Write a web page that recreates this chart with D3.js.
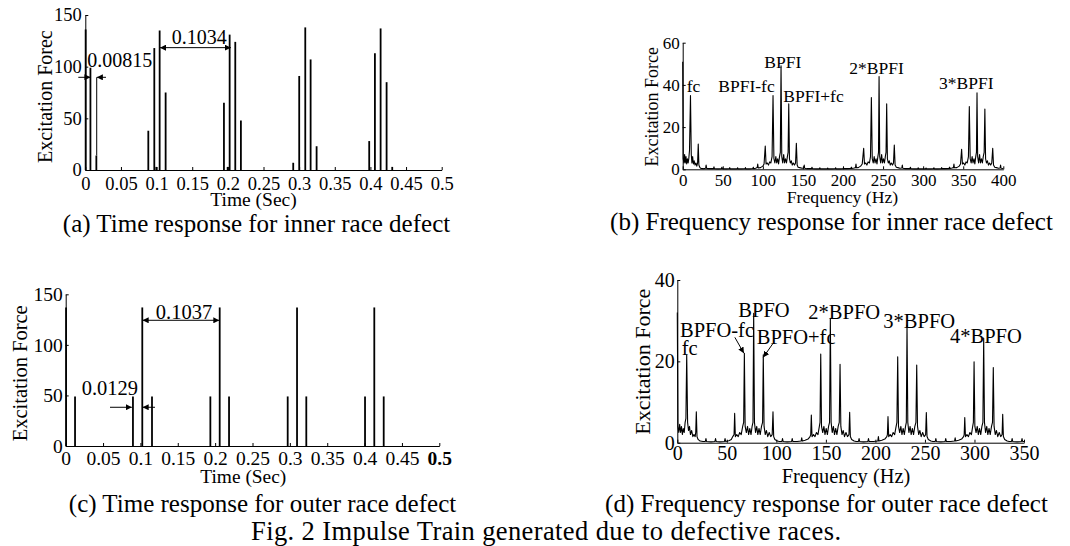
<!DOCTYPE html>
<html>
<head>
<meta charset="utf-8">
<script src="https://cdn.jsdelivr.net/npm/d3@7"></script>
<style>
  body { margin: 0; background: #fff; }
  svg { display: block; }
  text { font-family: "Liberation Serif", "Times New Roman", serif; fill: #000; }
</style>
</head>
<body>
<svg id="drawing_region"></svg>
<script>
// (a) inner race: impulse times (s) and forces
const innerTimes  = [0.0005, 0.0072, 0.0155, 0.0884, 0.0968, 0.0996, 0.1043, 0.1127,
                     0.1945, 0.1997, 0.2025, 0.2104, 0.2183, 0.2917, 0.3001, 0.3086,
                     0.3161, 0.3245, 0.3983, 0.4063, 0.4143, 0.4227, 0.4306];
const innerForces = [136, 99, 14, 38, 118, 3, 135, 75,
                     65, 3, 131, 124, 48, 7, 91, 138,
                     107, 23, 28, 113, 137, 85, 3];

// (c) outer race: impulse times (s) and forces
const outerTimes  = [0.0005, 0.0125, 0.0900, 0.1025, 0.1155, 0.1936, 0.2061, 0.2186,
                     0.2971, 0.3096, 0.3220, 0.4006, 0.4130, 0.4256];
const outerForces = [137, 49, 49, 137, 49, 49, 137, 49,
                     49, 137, 49, 49, 137, 49];

// (b) spectrum, inner race [Hz, force]
const innerSpectrum = [
  [0,51],[0.6,5],[1.5,3],[2.4,7],[3.2,3],[4.1,6],[5,2.5],[5.9,5],[6.8,3],[7.6,5],[8.5,9],[9.7,35],
  [10.7,7],[11.5,3],[12.4,6],[13.3,2.5],[14.3,4],[15.4,2],[16.5,3],[17.6,1.5],[18.6,3],[19.4,12],
  [20.2,2],[21.5,0.8],[23,0.4],[26,0.3],[28.6,0.5],[29.2,2],[29.9,0.4],[33,0.3],[38.4,0.3],[39,1.2],
  [39.6,0.3],[44,0.2],[48.3,0.3],[48.9,1],[49.5,0.3],[54,0.2],[58.1,0.3],[58.7,0.8],[59.3,0.2],
  [63,0.2],[67.9,0.2],[68.5,0.7],[69.1,0.2],[73,0.2],[77.7,0.3],[78.3,0.8],[78.9,0.2],[83,0.2],
  [87.5,0.4],[88.1,1],[88.7,0.3],[91,0.5],[93,0.8],[93.6,2.5],[94.2,0.6],[97,0.8],[100,1.5],
  [101.5,2.5],[103,11],[104,2.5],[105.5,3],[107,2],[108.5,3.5],[110,3],[111.5,6],[112.7,35],
  [113.8,5],[115,3],[116.2,6],[117.3,3],[118.5,5],[119.6,2.5],[120.8,6],[121.8,8],[122.7,49],
  [123.6,6],[124.8,3],[126,7],[127.1,3],[128.3,5],[129.5,3],[130.6,6],[131.5,8],[132.3,31],
  [133.2,5],[134.3,3],[135.5,4],[136.7,2],[138,3],[139.5,2],[140.8,3],[141.8,12.3],[142.8,2],
  [144,1],[146,0.8],[149,0.5],[151,0.6],[151.6,2],[152.2,0.5],[155,0.3],[160.7,0.3],[161.3,1],
  [161.9,0.3],[166,0.2],[170.5,0.2],[171.1,0.7],[171.7,0.2],[176,0.2],[180.3,0.2],[180.9,0.6],
  [181.5,0.2],[186,0.2],[190.2,0.3],[190.8,0.7],[191.4,0.2],[196,0.2],[200,0.3],[200.6,0.8],
  [201.2,0.3],[205,0.3],[209.8,0.4],[210.4,1],[211,0.4],[214,0.6],[215.6,0.8],[216.2,2.5],
  [216.8,0.7],[219,0.8],[222,1.5],[224,2.5],[225.8,10],[226.8,2.5],[228.3,3],[229.8,2],[231.3,3.5],
  [233,3],[234.3,6],[235.4,34],[236.5,5],[237.7,3],[238.9,6],[240,3],[241.2,5],[242.4,2.5],
  [243.5,6],[244.3,8],[245,44],[245.8,6],[247,3],[248.2,7],[249.3,3],[250.5,5],[251.7,3],
  [252.8,6],[253.7,8],[254.5,31],[255.4,5],[256.5,3],[257.7,4],[259,2],[260.3,3],[261.8,2],
  [263,3],[264,11.5],[265,2],[266.5,1],[268.5,0.8],[271,0.5],[273.4,0.6],[274,2],[274.6,0.5],
  [278,0.3],[283.5,0.3],[284.1,1],[284.7,0.3],[289,0.2],[293.2,0.2],[293.8,0.7],[294.4,0.2],
  [299,0.2],[303,0.2],[303.6,0.6],[304.2,0.2],[309,0.2],[312.8,0.3],[313.4,0.7],[314,0.2],
  [318,0.2],[322.5,0.3],[323.1,0.8],[323.7,0.3],[327,0.3],[332.3,0.4],[332.9,1],[333.5,0.4],
  [336,0.6],[337.8,0.8],[338.4,2.5],[339,0.7],[342,0.8],[345,1.5],[346.6,2.5],[348,9.5],[349,2.5],
  [350.5,3],[352,2],[353.5,3.5],[355,3],[356.5,6],[357.6,29.7],[358.7,5],[359.9,3],[361.1,6],
  [362.2,3],[363.4,5],[364.5,2.5],[365.6,6],[366.5,8],[367.2,36.2],[368,6],[369.2,3],[370.4,7],
  [371.5,3],[372.7,5],[373.9,3],[375,6],[376.1,8],[377,28.6],[377.9,5],[379,3],[380.2,4],
  [381.5,2],[382.8,3],[384.3,2],[385.6,3],[386.8,10],[387.8,2],[389.3,1],[391.5,0.8],[394,0.5],
  [396,0.6],[396.6,2],[397.2,0.5],[400,0.4]
];

// (d) spectrum, outer race [Hz, force]
const outerSpectrum = [
  [0,32],[0.6,4],[1.5,2.5],[2.4,4.5],[3.3,2.5],[4.2,4],[5.1,2],[6,3.5],[7,2.5],[7.9,5],[8.7,6],
  [9.5,21.6],[10.4,5],[11.3,3],[12.3,4],[13.3,2],[14.5,3],[15.7,1.5],[16.8,2],[18,1.5],[18.6,2.5],
  [19.2,7.6],[19.9,1.5],[21,0.8],[23,0.4],[26,0.3],[28.3,0.3],[28.9,1],[29.5,0.3],[34,0.2],
  [38,0.3],[38.6,1],[39.2,0.3],[43,0.2],[47.6,0.3],[48.2,1],[48.8,0.3],[52,0.5],[54.5,0.8],
  [56,1.5],[57.3,2],[57.9,7.2],[58.6,1.5],[60,2],[61.5,1.5],[63,2.5],[64.5,2],[66,4],[67,5],
  [67.7,22],[68.5,4],[69.7,2.5],[70.9,4],[72,2],[73.2,3.5],[74.4,2],[75.5,4],[76.4,5],[77.1,31.8],
  [77.9,5],[79,2.5],[80.2,4],[81.3,2],[82.5,3.5],[83.7,2],[85,4],[86.1,5],[86.8,21.6],[87.6,4],
  [88.8,2],[90,3],[91.3,1.5],[92.8,2.5],[94.3,1.5],[95.8,2],[96.6,7.6],[97.3,1.5],[98.5,0.8],
  [101,0.4],[103,0.3],[105.6,0.3],[106.2,1],[106.8,0.3],[111,0.2],[115.4,0.3],[116,1],[116.6,0.3],
  [121,0.3],[125,0.4],[125.6,1.2],[126.2,0.4],[129,0.6],[132,0.9],[134,1.5],[134.7,2],[135.3,6.8],
  [136,1.5],[137.5,2],[139,1.5],[140.5,2.5],[142,2],[143.4,4],[144.1,5],[144.8,21.8],[145.6,4],
  [146.8,2.5],[148,4],[149.1,2],[150.3,3.5],[151.5,2],[152.7,4],[153.7,5],[154.5,30.6],[155.3,5],
  [156.4,2.5],[157.6,4],[158.7,2],[159.9,3.5],[161.1,2],[162.4,4],[163.5,5],[164.3,19.3],[165.1,4],
  [166.3,2],[167.5,3],[168.8,1.5],[170.3,2.5],[171.8,1.5],[173.3,2],[174,7.5],[174.7,1.5],
  [176,0.8],[178.5,0.4],[180.5,0.3],[182.9,0.3],[183.5,1],[184.1,0.3],[188,0.2],[192.4,0.3],
  [193,1],[193.6,0.3],[198,0.3],[202.4,0.4],[203,1.5],[203.6,0.4],[206.5,0.6],[209.5,0.9],
  [211.5,1.5],[212.1,2],[212.7,6.4],[213.4,1.5],[214.9,2],[216.4,1.5],[217.9,2.5],[219.4,2],
  [220.9,4],[221.7,5],[222.5,21.1],[223.3,4],[224.5,2.5],[225.7,4],[226.8,2],[228,3.5],[229.2,2],
  [230.4,4],[231.2,5],[231.9,28.9],[232.7,5],[233.8,2.5],[235,4],[236.1,2],[237.3,3.5],[238.5,2],
  [239.8,4],[240.9,5],[241.7,19.1],[242.5,4],[243.7,2],[244.9,3],[246.2,1.5],[247.7,2.5],
  [249.2,1.5],[250.7,2],[251.4,7.4],[252.1,1.5],[253.4,0.8],[256,0.4],[258,0.3],[260.4,0.3],
  [261,1],[261.6,0.3],[266,0.2],[270.4,0.3],[271,1],[271.6,0.3],[276,0.3],[279.9,0.4],
  [280.5,1.2],[281.1,0.4],[284,0.6],[287,0.9],[289,1.5],[289.6,2],[290.2,6.2],[290.9,1.5],
  [292.4,2],[293.9,1.5],[295.4,2.5],[296.9,2],[298.2,4],[298.9,5],[299.6,19.9],[300.4,4],
  [301.6,2.5],[302.8,4],[303.9,2],[305.1,3.5],[306.3,2],[307.5,4],[308.5,5],[309.3,25.7],
  [310.1,5],[311.2,2.5],[312.4,4],[313.5,2],[314.7,3.5],[315.9,2],[317.2,4],[318.2,5],[319,18.5],
  [319.8,4],[321,2],[322.2,3],[323.5,1.5],[325,2.5],[326.5,1.5],[327.9,2],[328.5,7],[329.2,1.5],
  [330.5,0.8],[333,0.4],[335,0.3],[337.4,0.3],[338,1],[338.6,0.3],[343,0.2],[347.4,0.3],
  [348,1],[348.6,0.3],[350,0.3]
];

// tick values and labels
const timeTicks       = [0, 0.05, 0.1, 0.15, 0.2, 0.25, 0.3, 0.35, 0.4, 0.45, 0.5];
const timeTickLabels  = ['0', '0.05', '0.1', '0.15', '0.2', '0.25', '0.3', '0.35', '0.4', '0.45', '0.5'];
const forceTicksTime  = [0, 50, 100, 150];
const freqTicksInner  = [0, 50, 100, 150, 200, 250, 300, 350, 400];
const forceTicksInner = [0, 20, 40, 60];
const freqTicksOuter  = [0, 50, 100, 150, 200, 250, 300, 350];
const forceTicksOuter = [0, 20, 40];

// peak names, anchored in data units [text, x, y]
const innerPeakNames = [['fc', 5, 36.8], ['BPFI-fc', 44.4, 36.8], ['BPFI', 101.8, 47.9],
                        ['BPFI+fc', 125.5, 32], ['2*BPFI', 207.9, 45.2], ['3*BPFI', 319.8, 37.9]];
const outerPeakNames = [['fc', 4.4, 21.6], ['BPFO-fc', 2.7, 26.1], ['BPFO', 61.6, 30.8],
                        ['BPFO+fc', 80.2, 24.3], ['2*BPFO', 132.3, 30.4], ['3*BPFO', 208, 28.3],
                        ['4*BPFO', 275.3, 24.6]];

const serif = '"Liberation Serif", "Times New Roman", serif';

const svg = d3.select('#drawing_region')
    .attr('width', 1070)
    .attr('height', 546);

// arrow head marker
svg.append('defs').append('marker')
    .attr('id', 'head')
    .attr('viewBox', '0 0 10 10')
    .attr('refX', 10).attr('refY', 5)
    .attr('markerWidth', 6).attr('markerHeight', 6)
    .attr('markerUnits', 'userSpaceOnUse')
    .attr('orient', 'auto-start-reverse')
    .append('path')
    .attr('d', 'M0,0L10,5L0,10z')
    .attr('fill', '#000');

class Panel {
    constructor( config ) {
        this.config = config;
        this.init();
    }

    init() {
        let self = this;
        const c = self.config;
        self.chart = svg.append('g');
        self.xscale = d3.scaleLinear().domain( c.xdomain ).range( [c.left, c.right] );
        self.yscale = d3.scaleLinear().domain( c.ydomain ).range( [c.bottom, c.top] );
    }

    axes() {
        let self = this;
        const c = self.config;

        const xaxis = d3.axisBottom( self.xscale )
            .tickValues( c.xticks )
            .tickFormat( (d, i) => c.xlabels ? c.xlabels[i] : d )
            .tickSizeInner(-3)
            .tickSizeOuter(0)
            .tickPadding( c.xpad );
        const yaxis = d3.axisLeft( self.yscale )
            .tickValues( c.yticks )
            .tickSizeInner(-3)
            .tickSizeOuter(0)
            .tickPadding( c.ypad );

        const xg = self.chart.append('g')
            .attr('transform', `translate(0, ${c.bottom})`)
            .call( xaxis );
        const yg = self.chart.append('g')
            .attr('transform', `translate(${c.left}, 0)`)
            .call( yaxis );

        [xg, yg].forEach( g => {
            g.attr('font-family', serif).attr('font-size', c.tickSize);
            g.selectAll('path, line').attr('stroke', '#000').attr('stroke-width', 1);
            g.selectAll('text').attr('fill', '#000');
        });

        self.chart.append('text')
            .attr('x', c.xlabelPos[0])
            .attr('y', c.xlabelPos[1])
            .attr('text-anchor', 'middle')
            .attr('font-size', c.xlabelSize)
            .text( c.xlabel );

        self.chart.append('text')
            .attr('transform', `translate(${c.ylabelPos[0]}, ${c.ylabelPos[1]}) rotate(-90)`)
            .attr('text-anchor', 'middle')
            .attr('font-size', c.ylabelSize)
            .text( c.ylabel );

        self.chart.append('text')
            .attr('x', c.captionPos[0])
            .attr('y', c.captionPos[1])
            .attr('text-anchor', 'middle')
            .attr('font-size', 25)
            .text( c.caption );
        return self;
    }

    impulses( times, forces ) {
        let self = this;
        self.chart.append('g').selectAll('line')
            .data( times )
            .enter()
            .append('line')
            .attr('x1', d => self.xscale(d))
            .attr('x2', d => self.xscale(d))
            .attr('y1', self.yscale(0))
            .attr('y2', (d, i) => self.yscale( forces[i] ))
            .attr('stroke', '#000')
            .attr('stroke-width', 1.8);
        return self;
    }

    spectrum( points ) {
        let self = this;
        const line = d3.line()
            .x( d => self.xscale(d[0]) )
            .y( d => self.yscale(d[1]) );
        self.chart.append('path')
            .datum( points )
            .attr('d', line)
            .attr('fill', 'none')
            .attr('stroke', '#000')
            .attr('stroke-width', 1.1)
            .attr('stroke-linejoin', 'round');
        return self;
    }

    note( text, x, y, size, anchor ) {
        let self = this;
        self.chart.append('text')
            .attr('x', self.xscale(x))
            .attr('y', self.yscale(y))
            .attr('text-anchor', anchor || 'start')
            .attr('font-size', size)
            .text( text );
        return self;
    }

    arrow( x1, y1, x2, y2, both ) {
        let self = this;
        const a = self.chart.append('line')
            .attr('x1', self.xscale(x1)).attr('y1', self.yscale(y1))
            .attr('x2', self.xscale(x2)).attr('y2', self.yscale(y2))
            .attr('stroke', '#000')
            .attr('stroke-width', 1)
            .attr('marker-end', 'url(#head)');
        if ( both ) a.attr('marker-start', 'url(#head)');
        return self;
    }

    rule( x, y1, y2 ) {
        let self = this;
        self.chart.append('line')
            .attr('x1', self.xscale(x)).attr('x2', self.xscale(x))
            .attr('y1', self.yscale(y1)).attr('y2', self.yscale(y2))
            .attr('stroke', '#000')
            .attr('stroke-width', 1);
        return self;
    }
}

// (a) time response, inner race
const pa = new Panel({
    xdomain: [0, 0.5], ydomain: [0, 150],
    left: 85.3, right: 441.7, top: 15, bottom: 170,
    xticks: timeTicks, xlabels: timeTickLabels, yticks: forceTicksTime,
    xpad: 6.5, ypad: 3.5, tickSize: 18.5,
    xlabel: 'Time (Sec)', xlabelPos: [253.5, 206], xlabelSize: 19.5,
    ylabel: 'Excitation Forec', ylabelPos: [51.7, 96.7], ylabelSize: 20,
    caption: '(a) Time response for inner race defect', captionPos: [256.5, 232]
});
pa.axes().impulses( innerTimes, innerForces );
pa.rule( 0.016, 14, 89.7 )
  .arrow( -0.0098, 89.7, 0.0072, 89.7 )
  .arrow( 0.029, 89.7, 0.0162, 89.7 )
  .note( '0.00815', 0.0028, 100, 20 )
  .arrow( 0.1048, 118.4, 0.2042, 118.4, true )
  .note( '0.1034', 0.1597, 122, 20, 'middle' );

// (b) frequency response, inner race
const pb = new Panel({
    xdomain: [0, 400], ydomain: [0, 60],
    left: 682.7, right: 1003.3, top: 42.7, bottom: 169.3,
    xticks: freqTicksInner, yticks: forceTicksInner,
    xpad: 5, ypad: 3, tickSize: 17,
    xlabel: 'Frequency (Hz)', xlabelPos: [842.5, 203], xlabelSize: 17.7,
    ylabel: 'Excitation Force', ylabelPos: [658, 106.7], ylabelSize: 18,
    caption: '(b) Frequency response for inner race defect', captionPos: [831.5, 230]
});
pb.axes().spectrum( innerSpectrum );
innerPeakNames.forEach( d => pb.note( d[0], d[1], d[2], 17.5 ) );

// (c) time response, outer race
const pc = new Panel({
    xdomain: [0, 0.5], ydomain: [0, 150],
    left: 65.7, right: 439.3, top: 294.3, bottom: 446,
    xticks: timeTicks, xlabels: timeTickLabels, yticks: forceTicksTime,
    xpad: 5, ypad: 3, tickSize: 19.5,
    xlabel: 'Time (Sec)', xlabelPos: [243.3, 483], xlabelSize: 19.4,
    ylabel: 'Excitation Force', ylabelPos: [26.7, 373.3], ylabelSize: 20.5,
    caption: '(c) Time response for outer race defect', captionPos: [262.5, 512]
});
pc.axes().impulses( outerTimes, outerForces );
pc.chart.selectAll('.tick text').filter( d => d === 0.5 ).attr('font-weight', 'bold');
pc.arrow( 0.0593, 38.3, 0.0885, 38.3 )
  .arrow( 0.1195, 38.3, 0.1030, 38.3 )
  .note( '0.0129', 0.0214, 50.4, 20.5 )
  .arrow( 0.1030, 124.3, 0.2056, 124.3, true )
  .note( '0.1037', 0.1583, 125.3, 20.5, 'middle' );

// (d) frequency response, outer race
const pd = new Panel({
    xdomain: [0, 350], ydomain: [0, 40],
    left: 677.3, right: 1024, top: 280, bottom: 442.7,
    xticks: freqTicksOuter, yticks: forceTicksOuter,
    xpad: 3.5, ypad: 2.5, tickSize: 20,
    xlabel: 'Frequency (Hz)', xlabelPos: [846, 483], xlabelSize: 20.4,
    ylabel: 'Excitation Force', ylabelPos: [650, 361.7], ylabelSize: 22,
    caption: '(d) Frequency response for outer race defect', captionPos: [826.5, 512]
});
pd.axes().spectrum( outerSpectrum );
outerPeakNames.forEach( d => pd.note( d[0], d[1], d[2], 20.5 ) );
pd.arrow( 58.1, 25.9, 67.2, 22 )
  .arrow( 96.3, 24.3, 86.8, 21 );

// figure caption
svg.append('text')
    .attr('x', 546)
    .attr('y', 539.5)
    .attr('text-anchor', 'middle')
    .attr('font-size', 26.5)
    .attr('textLength', 590)
    .attr('lengthAdjust', 'spacing')
    .text('Fig. 2 Impulse Train generated due to defective races.');
</script>
</body>
</html>
